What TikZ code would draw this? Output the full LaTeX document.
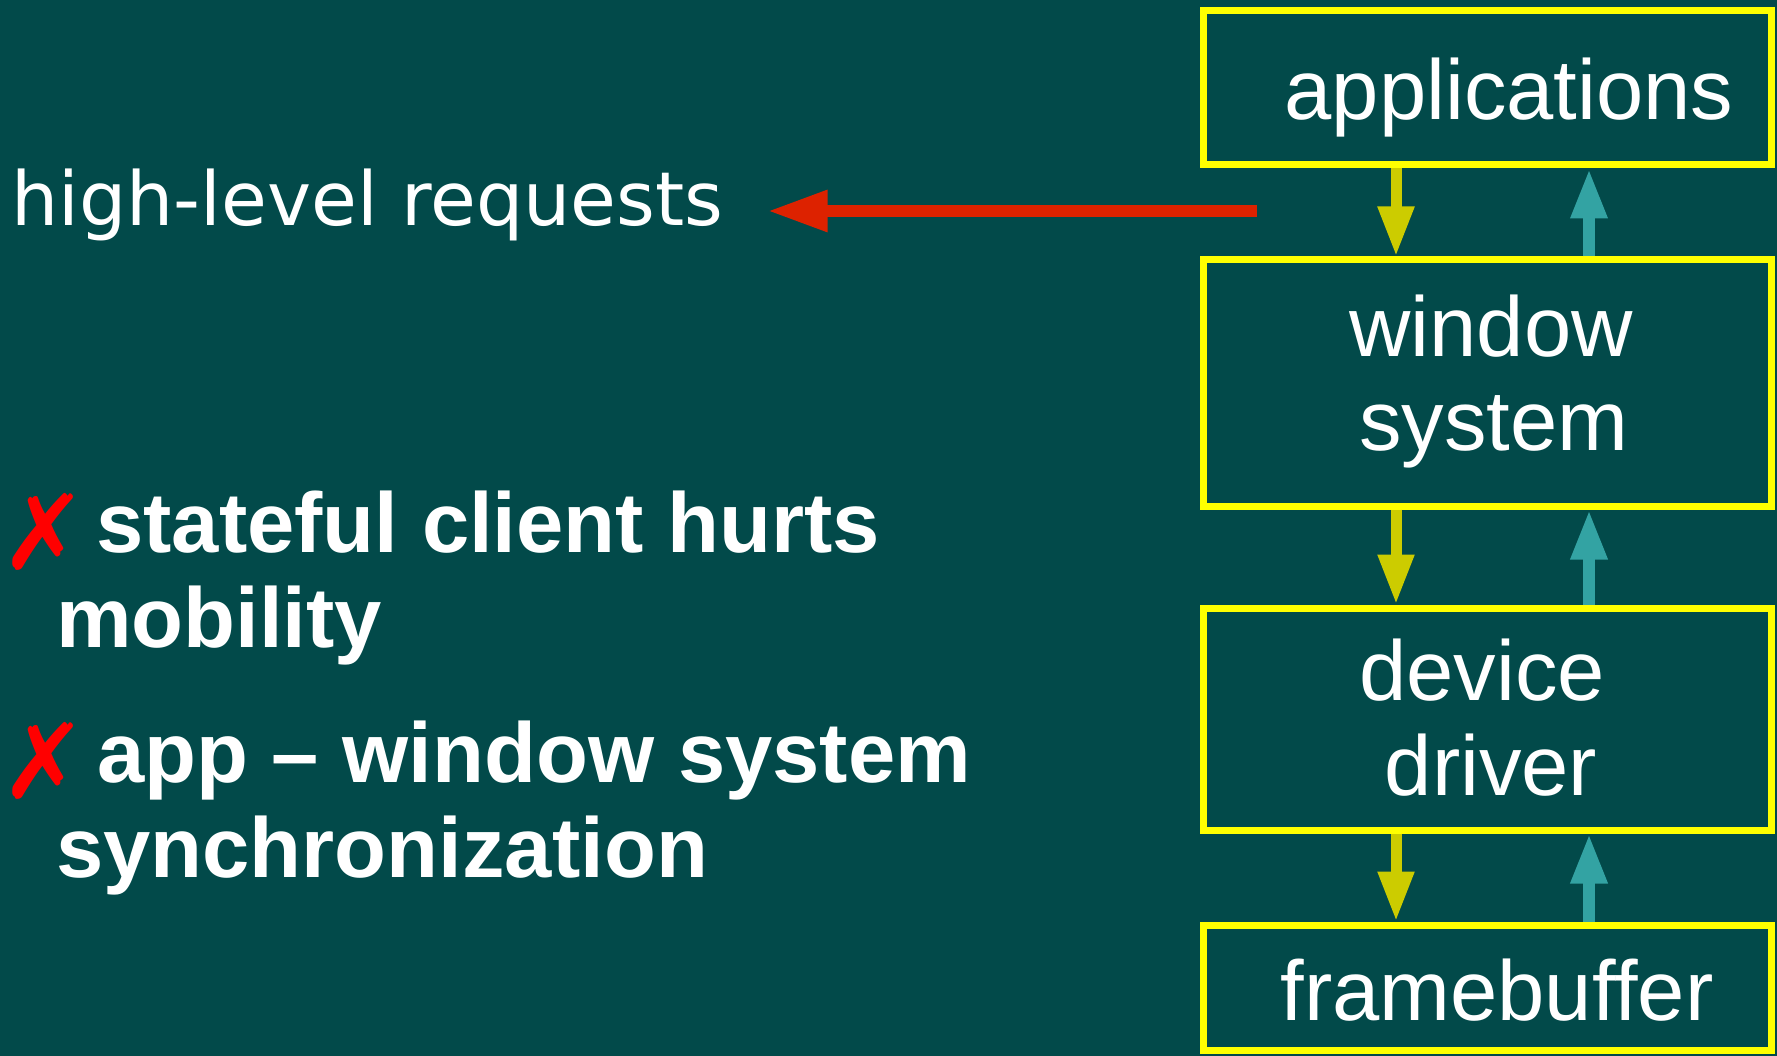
\documentclass[tikz,border=0pt]{standalone}
\usepackage{fontspec}
\setmainfont{Liberation Sans}
\newfontfamily\dvfont{DejaVu Sans}
\usetikzlibrary{arrows.meta,calc}
\definecolor{slidebg}{HTML}{024A4A}
\definecolor{boxline}{HTML}{FFFF00}
\definecolor{downcol}{HTML}{CCCC00}
\definecolor{upcol}{HTML}{33A3A3}
\definecolor{reqred}{HTML}{DD2200}
\definecolor{crossred}{HTML}{FF0000}

\begin{document}
\begin{tikzpicture}[x=1pt,y=-1pt,
  layer/.style={draw=boxline, line width=7pt, minimum width=568pt, inner sep=0pt},
  layertext/.style={text=white, font=\fontsize{85}{96}\selectfont, inner sep=0pt, anchor=base},
  downflow/.style={draw=downcol, line width=11pt, -{Triangle[width=34pt,length=50pt]}},
  upflow/.style={draw=upcol, line width=12pt, -{Triangle[width=34pt,length=50pt]}},
  reqflow/.style={draw=reqred, line width=12pt, -{Triangle[width=39pt,length=60pt]}},
  pointtext/.style={text=white, font=\bfseries\fontsize{85}{95}\selectfont, inner sep=0pt, anchor=base west},
  crossmark/.style={text=crossred, font=\dvfont\fontsize{104}{104}\selectfont, inner sep=0pt}
]
% background
\fill[slidebg] (0,0) rectangle (1777,1056);
\useasboundingbox (0,0) rectangle (1777,1056);

% layer boxes
\node[layer, minimum height=154pt] (apps) at (1487,88) {};
\node[layer, minimum height=246pt] (ws) at (1487,383) {};
\node[layer, minimum height=222pt] (dd) at (1487,719) {};
\node[layer, minimum height=125pt] (fb) at (1487,987.5) {};

% box labels
\node[layertext] (appst) at (1509,120) {applications};
\node[layertext] (wst1) at (1491,357) {window};
\node[layertext] (wst2) at (1494,450) {system};
\node[layertext] (ddt1) at (1482,700) {device};
\node[layertext] (ddt2) at (1491,795) {driver};
\node[layertext] (fbt) at (1497,1020) {framebuffer};

% flows between the layers
\coordinate (dnx) at (1396,0);
\coordinate (upx) at (1589,0);
\draw[downflow] (apps.south -| dnx) -- (ws.north -| dnx);
\draw[upflow] (ws.north -| upx) -- (apps.south -| upx);
\draw[downflow] (ws.south -| dnx) -- (dd.north -| dnx);
\draw[upflow] (dd.north -| upx) -- (ws.south -| upx);
\draw[downflow] (dd.south -| dnx) -- (fb.north -| dnx);
\draw[upflow] (fb.north -| upx) -- (dd.south -| upx);

% requests leaving the application layer
\node[text=white, font=\dvfont\fontsize{74.5}{80}\selectfont, inner sep=0pt, anchor=base west] (hlr) at (11,226) {high-level requests};
\coordinate (reqstart) at (1257,211);
\coordinate (reqend) at ($(hlr.east |- reqstart)+(44,0)$);
\draw[reqflow] (reqstart) -- (reqend);

% drawbacks
\node[crossmark] (x1) at (44,532) {✗};
\node[pointtext] (p1a) at (96,552) {stateful client hurts};
\node[pointtext] (p1b) at (56,647) {mobility};
\node[crossmark] (x2) at (44,761) {✗};
\node[pointtext] (p2a) at (97,782) {app – window system};
\node[pointtext] (p2b) at (56,877) {synchronization};
\end{tikzpicture}
\end{document}
